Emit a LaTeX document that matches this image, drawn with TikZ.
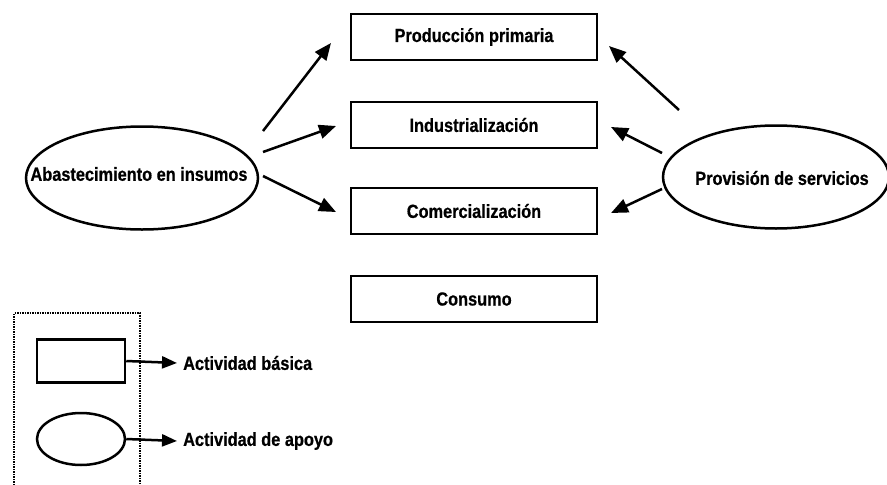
\documentclass[tikz,border=0pt]{standalone}
\usepackage{fontspec}
\setmainfont{Liberation Sans}[FakeStretch=0.86,BoldFeatures={FakeBold=0.6}]
\usetikzlibrary{shapes.geometric,arrows.meta}
\begin{document}
\begin{tikzpicture}[x=1pt,y=-1pt,
  txt/.style={font=\bfseries\fontsize{19}{22}\selectfont},
  act/.style={draw,line width=2.5pt,minimum width=246pt,minimum height=46pt,inner sep=0pt,txt},
  sup/.style={draw,ellipse,line width=2.5pt,inner sep=0pt},
  arr/.style={line width=2.5pt,-{Triangle[length=17pt,width=14pt]}}]
\useasboundingbox (0,0) rectangle (887,485);
\node[act] (p) at (474,37) {Producción primaria};
\node[act] (i) at (474,125) {Industrialización};
\node[act] (c) at (474,211) {Comercialización};
\node[act] (k) at (474,299) {Consumo};
\node[sup,minimum width=232pt,minimum height=103pt] (a) at (142,178) {};
\node[txt,inner sep=0pt] (at) at (139,174) {Abastecimiento en insumos};
\node[sup,minimum width=226pt,minimum height=103pt] (s) at (776,177) {};
\node[txt,inner sep=0pt] (st) at (782,178) {Provisión de servicios};
\coordinate (a1) at (263,131); \coordinate (a2) at (263,152); \coordinate (a3) at (263,176);
\coordinate (p1) at (331,43); \coordinate (i1) at (336,126); \coordinate (c1) at (336,212);
\coordinate (s1) at (679,110); \coordinate (s2) at (662,153); \coordinate (s3) at (662,189);
\coordinate (p2) at (609,46); \coordinate (i2) at (611,127); \coordinate (c2) at (611,213);
\draw[arr] (a1) -- (p1);
\draw[arr] (a2) -- (i1);
\draw[arr] (a3) -- (c1);
\draw[arr] (s1) -- (p2);
\draw[arr] (s2) -- (i2);
\draw[arr] (s3) -- (c2);
% legend
\draw[line width=2.2pt,dash pattern=on 1.5pt off 1pt] (14,490) -- (14,313) -- (140,313) -- (140,490);
\node[draw,line width=2.5pt,minimum width=88pt,minimum height=43pt,inner sep=0pt] (lr) at (81,361) {};
\node[draw,ellipse,line width=2.5pt,minimum width=88pt,minimum height=52pt,inner sep=0pt] (le) at (81,439) {};
\node[txt,anchor=west,inner sep=0pt] (tb) at (183,363) {Actividad básica};
\node[txt,anchor=west,inner sep=0pt] (ta) at (183,441) {Actividad de apoyo};
\draw[arr,-{Triangle[length=15pt,width=12pt]}] (lr.east) -- ([xshift=-6pt]tb.west);
\draw[arr,-{Triangle[length=15pt,width=12pt]}] (le.east) -- ([xshift=-6pt]ta.west);
\end{tikzpicture}
\end{document}
